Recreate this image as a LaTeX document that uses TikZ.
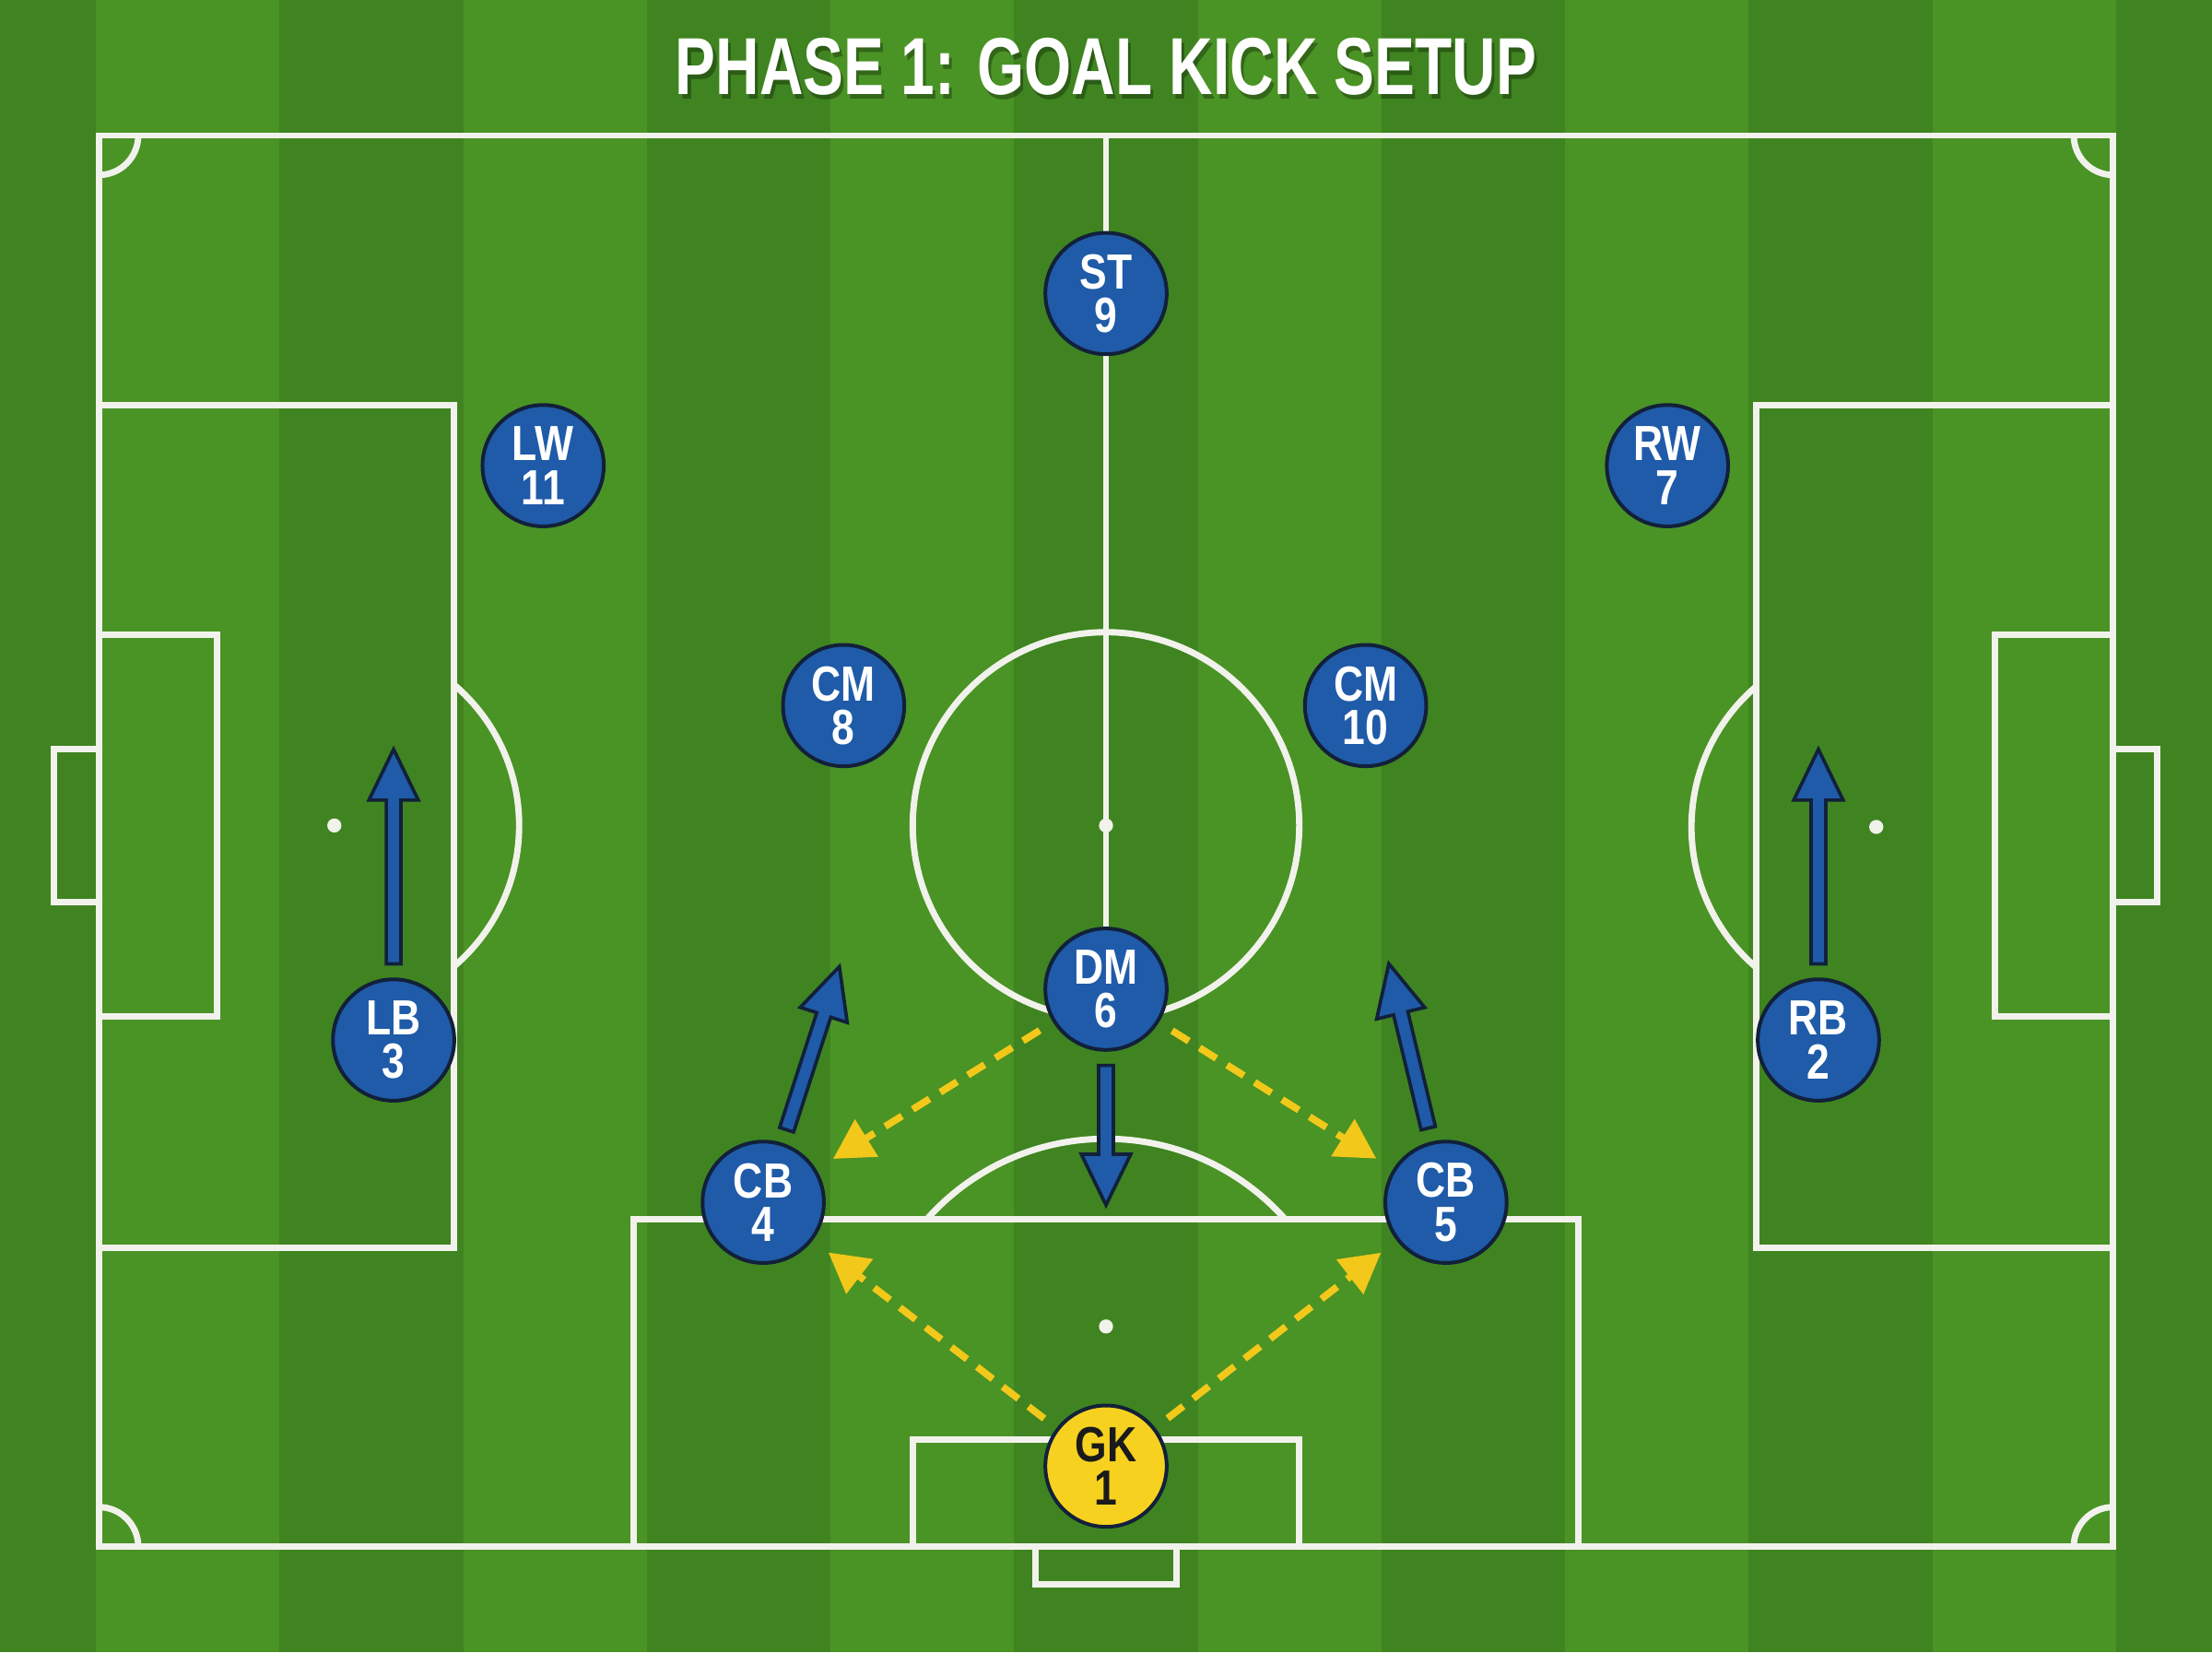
\documentclass[tikz,border=0pt]{standalone}
\usepackage{graphicx}
\usepackage{fontspec}
\setmainfont{Liberation Sans}
\newfontfamily\condfont[FakeStretch=0.83]{Liberation Sans}
\usetikzlibrary{arrows.meta,calc}
\definecolor{grassL}{HTML}{4A9325}
\definecolor{grassD}{HTML}{3F8420}
\definecolor{chalk}{HTML}{F2F2EC}
\definecolor{pblue}{HTML}{1F5BA8}
\definecolor{pnavy}{HTML}{12203A}
\definecolor{pyellow}{HTML}{F6D11F}
\definecolor{passyellow}{HTML}{F2C81A}
\definecolor{inkdark}{HTML}{1A1A1A}
\tikzset{
  pitchline/.style={draw=chalk, line width=4.5pt},
  spot/.style={fill=chalk},
  player/.style={circle, minimum size=86pt, inner sep=0pt, draw=pnavy, line width=2.6pt,
    fill=pblue, text=white, align=center,
    font=\condfont\bfseries\fontsize{35}{31}\selectfont},
  keeper/.style={player, fill=pyellow, text=inkdark},
  pass/.style={draw=passyellow, line width=5pt, dash pattern=on 14pt off 9pt,
    -{Triangle[length=28pt,width=30pt]}, shorten <=11pt, shorten >=14pt},
  blockarrow/.style={fill=pblue, draw=pnavy, line width=2.4pt, line join=miter},
}
\newcommand\blkarrow[2]{%
  \coordinate (ba-t) at ($(#1)!54pt!(#2)$);
  \coordinate (ba-h) at ($(#2)!36pt!(ba-t)$);
  \filldraw[blockarrow] ($(ba-t)!5.2pt!90:(#2)$) -- ($(ba-h)!5.2pt!-90:(ba-t)$)
    -- ($(ba-h)!17.5pt!-90:(ba-t)$) -- (#2) -- ($(ba-h)!17.5pt!90:(ba-t)$)
    -- ($(ba-h)!5.2pt!90:(ba-t)$) -- ($(ba-t)!5.2pt!-90:(#2)$) -- cycle;
}
\begin{document}
\begin{tikzpicture}[x=1pt,y=-1pt]
\useasboundingbox (0,0) rectangle (1568,1171);
% grass stripes
\fill[grassL] (0,0) rectangle (1568,1171);
\foreach \i in {-1,1,3,5,7,9,11} {
  \fill[grassD] ({68+130.18*\i},0) rectangle ({68+130.18*(\i+1)},1171);
}
% title
\node[text=black, opacity=0.3, anchor=base, inner sep=0pt] at (786,70)
  {\resizebox{610pt}{40pt}{\bfseries PHASE 1: GOAL KICK SETUP}};
\node[text=white, anchor=base, inner sep=0pt] (title) at (784,67)
  {\resizebox{610pt}{40pt}{\bfseries PHASE 1: GOAL KICK SETUP}};
% pitch
\draw[pitchline] (70,96) rectangle (1498,1096);
\draw[pitchline] (784,96) -- (784,701);
\draw[pitchline] (784,585) circle (137);
\fill[spot] (784,585) circle (5);
% left end
\draw[pitchline] (70,287) rectangle (322,884);
\draw[pitchline] (70,450) rectangle (154,720);
\draw[pitchline] (70,531) -- (38,531) -- (38,639) -- (70,639);
\fill[spot] (237,585) circle (5);
\begin{scope}
  \clip (322,0) rectangle (800,1171);
  \draw[pitchline] (237,585) circle (131);
\end{scope}
% right end
\draw[pitchline] (1245,287) rectangle (1498,884);
\draw[pitchline] (1414,450) rectangle (1498,720);
\draw[pitchline] (1498,531) -- (1529,531) -- (1529,639) -- (1498,639);
\fill[spot] (1330,586) circle (5);
\begin{scope}
  \clip (800,0) rectangle (1245,1171);
  \draw[pitchline] (1330,586) circle (131);
\end{scope}
% bottom end
\draw[pitchline] (449,1096) -- (449,864) -- (1119,864) -- (1119,1096);
\draw[pitchline] (647,1096) -- (647,1020) -- (921,1020) -- (921,1096);
\draw[pitchline] (734,1096) -- (734,1123) -- (834,1123) -- (834,1096);
\fill[spot] (784,940) circle (5);
\begin{scope}
  \clip (0,0) rectangle (1568,864);
  \draw[pitchline] (784,977) circle (170);
\end{scope}
% corner arcs
\begin{scope}
  \clip (70,96) rectangle (1498,1096);
  \draw[pitchline] (70,96) circle (28);
  \draw[pitchline] (1498,96) circle (28);
  \draw[pitchline] (70,1096) circle (28);
  \draw[pitchline] (1498,1096) circle (28);
\end{scope}
% players
\node[player] (st) at (784,208) {ST\\9};
\node[player] (lw) at (385,330) {LW\\11};
\node[player] (rw) at (1182,330) {RW\\7};
\node[player] (cm8) at (598,500) {CM\\8};
\node[player] (cm10) at (968,500) {CM\\10};
\node[player] (dm) at (784,701) {DM\\6};
\node[player] (lb) at (279,737) {LB\\3};
\node[player] (rb) at (1289,737) {RB\\2};
\node[player] (cb4) at (541,852) {CB\\4};
\node[player] (cb5) at (1025,852) {CB\\5};
\node[keeper] (gk) at (784,1039) {GK\\1};
% movement targets
\coordinate (lbgo) at (279,531);
\coordinate (rbgo) at (1289,531);
\coordinate (cb4go) at (595,685);
\coordinate (cb5go) at (984.5,683);
\coordinate (dmgo) at (784,854);
\blkarrow{lb}{lbgo}
\blkarrow{rb}{rbgo}
\blkarrow{cb4}{cb4go}
\blkarrow{cb5}{cb5go}
\blkarrow{dm}{dmgo}
% passing options
\draw[pass] (dm) -- (cb4);
\draw[pass] (dm) -- (cb5);
\draw[pass] (gk) -- (cb4);
\draw[pass] (gk) -- (cb5);
\end{tikzpicture}
\end{document}
